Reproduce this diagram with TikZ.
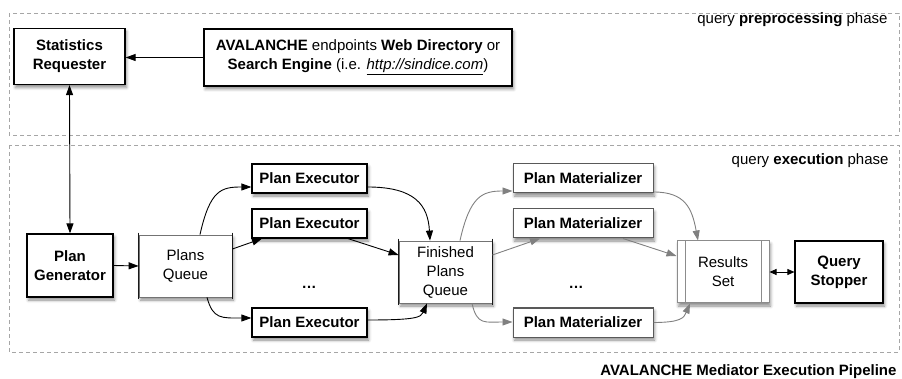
\documentclass[tikz,border=0pt]{standalone}
\usepackage{fontspec}
\setmainfont{Liberation Sans}
\usetikzlibrary{arrows.meta,shadows.blur}

\tikzset{
  txt/.style={font=\fontsize{15}{19}\selectfont},
  shade box/.style={blur shadow={shadow xshift=1.5pt, shadow yshift=-3pt,
      shadow blur radius=3pt, shadow opacity=45}},
  darkbox/.style={draw=black, line width=1.2pt, fill=white, shade box,
      inner sep=0pt, align=center, txt, font=\fontsize{15}{19}\selectfont\bfseries},
  greybox/.style={draw=black!65, line width=1pt, fill=white, shade box,
      inner sep=0pt, align=center, txt, font=\fontsize{15}{19}\selectfont\bfseries},
  queuebox/.style={draw=black!55, line width=0.8pt, fill=white, shade box,
      inner sep=0pt, align=center, txt},
  queueside/.style={draw=black!90, line width=1.3pt},
  phase/.style={draw=black!35, line width=0.8pt, dash pattern=on 4pt off 3pt},
  conn/.style={draw=black, line width=0.9pt, -{Triangle[length=10pt,width=7pt]}},
  gconn/.style={draw=black!50, line width=0.9pt, -{Triangle[length=10pt,width=7pt,fill=black!50]}},
  biconn/.style={draw=black, line width=0.9pt,
      {Triangle[length=10pt,width=7pt]}-{Triangle[length=10pt,width=7pt]}},
  shortbi/.style={draw=black, line width=0.9pt,
      {Triangle[length=7pt,width=6pt]}-{Triangle[length=7pt,width=6pt]}},
}

\begin{document}
\begin{tikzpicture}[x=1pt,y=-1pt]
\useasboundingbox (0,0) rectangle (902,379);

% phase frames
\draw[phase] (9,13) rectangle (899,135);
\draw[phase] (9,145) rectangle (899,352);
\node[txt, anchor=east] (prelbl) at (891,20) {query \textbf{preprocessing} phase};
\node[txt, anchor=east] (exelbl) at (892,161) {query \textbf{execution} phase};
\node[txt, font=\fontsize{15}{19}\selectfont\bfseries, anchor=base east] (caption) at (900,375)
  {AVALANCHE Mediator Execution Pipeline};

% preprocessing phase
\node[darkbox, minimum width=111pt, minimum height=56pt] (stats) at (69.5,56.5)
  {Statistics\\Requester};
\node[darkbox, font=\fontsize{15}{19}\selectfont, minimum width=308pt, minimum height=57pt] (aval) at (358,57.5)
  {\textbf{AVALANCHE} endpoints \textbf{Web Directory} or\\
   \textbf{Search Engine} (i.e. \underline{\textit{http://sindice.com}})};

% execution phase
\node[darkbox, minimum width=86pt, minimum height=63pt] (plangen) at (70,265.5)
  {Plan\\Generator};
\node[queuebox, minimum width=93pt, minimum height=62pt] (pq) at (185.5,266)
  {Plans\\Queue};
\node[darkbox, minimum width=115pt, minimum height=29pt] (pe1) at (309.5,178.5) {Plan Executor};
\node[darkbox, minimum width=115pt, minimum height=29pt] (pe2) at (309.5,223.5) {Plan Executor};
\node[darkbox, minimum width=115pt, minimum height=29pt] (pe3) at (309.5,322.5) {Plan Executor};
\node[txt, font=\fontsize{15}{19}\selectfont\bfseries, anchor=base] (dots1) at (309,289) {\dots};

\node[queuebox, minimum width=93pt, minimum height=62pt] (fpq) at (445.5,272)
  {Finished\\Plans\\Queue};
\node[greybox, minimum width=140pt, minimum height=29pt] (pm1) at (583,178.5) {Plan Materializer};
\node[greybox, minimum width=140pt, minimum height=29pt] (pm2) at (583,223.5) {Plan Materializer};
\node[greybox, minimum width=140pt, minimum height=29pt] (pm3) at (583,322.5) {Plan Materializer};
\node[txt, font=\fontsize{15}{19}\selectfont\bfseries, anchor=base] (dots2) at (576,289) {\dots};

\node[queuebox, draw=black!45, line width=1pt, minimum width=92pt, minimum height=62pt] (rs) at (723,272)
  {Results\\Set};
\node[darkbox, minimum width=88pt, minimum height=62pt] (qs) at (839,272)
  {Query\\Stopper};

% queue sides
\foreach \q in {pq,fpq}{
  \draw[queueside] ([yshift=2pt]\q.north west) -- ([yshift=-2pt]\q.south west);
  \draw[queueside] ([yshift=2pt]\q.north east) -- ([yshift=-2pt]\q.south east);
}
% result set inner bars
\draw[draw=black!45, line width=1pt] ([xshift=9pt]rs.north west) -- ([xshift=9pt]rs.south west);
\draw[draw=black!45, line width=1pt] ([xshift=-8pt]rs.north east) -- ([xshift=-8pt]rs.south east);

% connectors: preprocessing
\draw[conn] (aval.west) -- (aval.west -| stats.east);
\draw[biconn] (stats.south) -- (plangen.north);

% connectors: planning and execution
\draw[conn] (plangen.east) -- (pq.west);
\draw[conn] ([xshift=14.5pt]pq.north) .. controls +(10,-45) and +(-30,0) .. ([yshift=-8.5pt]pe1.west);
\draw[conn] ([yshift=17pt]pq.east) -- ([xshift=-47.5pt]pe2.south);
\draw[conn] ([xshift=21.5pt]pq.south) .. controls +(6,22) and +(-30,0) .. ([yshift=4.5pt]pe3.west);

\draw[conn] ([yshift=-8.5pt]pe1.east) .. controls +(48,0) and +(-2,-35) .. ([xshift=-15.5pt]fpq.north);
\draw[conn] ([xshift=38.5pt]pe2.south) -- ([yshift=17pt]fpq.west);
\draw[conn] ([yshift=2.5pt]pe3.east) .. controls +(48,0) and +(-6,14) .. ([xshift=-18.5pt]fpq.south);

% connectors: materialization
\draw[gconn] ([xshift=14.5pt]fpq.north) .. controls +(10,-45) and +(-30,0) .. ([yshift=-12.5pt]pm1.west);
\draw[gconn] ([yshift=17pt]fpq.east) -- ([xshift=-43pt]pm2.south);
\draw[gconn] ([xshift=26.5pt]fpq.south) .. controls +(5,22) and +(-28,0) .. ([yshift=0.5pt]pm3.west);

\draw[gconn] ([yshift=-13.5pt]pm1.east) .. controls +(32,0) and +(-6,-32) .. ([xshift=-25pt]rs.north);
\draw[gconn] ([xshift=40pt]pm2.south) -- ([yshift=16pt]rs.west);
\draw[gconn] (pm3.east) .. controls +(28,0) and +(-6,14) .. ([xshift=-33pt]rs.south);

\draw[shortbi] (rs.east) -- (qs.west);
\end{tikzpicture}
\end{document}
